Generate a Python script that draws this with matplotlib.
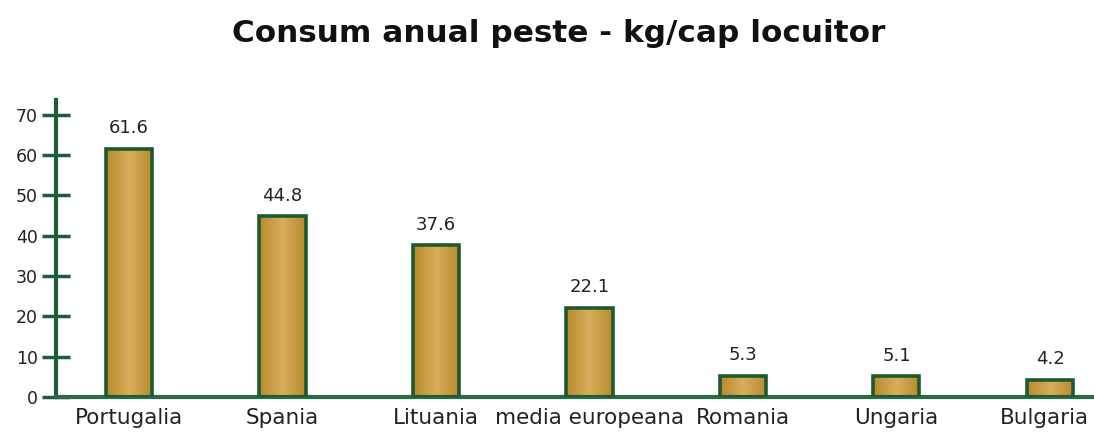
import matplotlib
matplotlib.use("Agg")
import matplotlib.pyplot as plt
import matplotlib.transforms as mtransforms
import numpy as np

categories = ["Portugalia", "Spania", "Lituania", "media europeana", "Romania", "Ungaria", "Bulgaria"]
values = [61.6, 44.8, 37.6, 22.1, 5.3, 5.1, 4.2]
value_labels = ["61.6", "44.8", "37.6", "22.1", "5.3", "5.1", "4.2"]
yticks = [0, 10, 20, 30, 40, 50, 60, 70]

plt.rcParams["font.family"] = ["DejaVu Sans"]

green = "#1F5C3A"
edge = "#1E5A30"

fig = plt.figure(figsize=(10.94, 4.34), dpi=100)
ax = fig.add_axes([0.0512, 0.0853, 0.9488, 0.6843])
x = np.arange(len(categories))
bars = ax.bar(x, values, width=0.3, facecolor="none", edgecolor=edge, linewidth=2.6, zorder=3)

# horizontal gradient fill clipped to each bar
grad = np.linspace(0, 1, 256)
grad = 1 - np.abs(grad - 0.5) * 2
cmap = matplotlib.colors.LinearSegmentedColormap.from_list("gold", ["#B8892C", "#D8AE5C"])
for b in bars:
    x0, y0 = b.get_x(), b.get_y()
    w, h = b.get_width(), b.get_height()
    im = ax.imshow(grad[None, :], cmap=cmap, aspect="auto",
                   extent=[x0, x0 + w, y0, y0 + h], zorder=2)
    im.set_clip_path(b)

for xi, v, lab in zip(x, values, value_labels):
    ax.text(xi, v + 2.9, lab, ha="center", va="bottom", fontsize=13, color="#222222")

ax.set_xlim(-0.4756, 6.287)
ax.set_ylim(0, 73.7)
ax.set_yticks(yticks)
ax.set_yticklabels([str(t) for t in yticks], fontsize=12.5, color="#222222")
ax.tick_params(axis="y", direction="inout", length=20, width=2.5, color=green, pad=3)
ax.set_xticks(x)
ax.set_xticklabels(categories, fontsize=15.5, color="#222222")
ax.tick_params(axis="x", length=0, pad=8)
last = ax.get_xticklabels()[-1]
last.set_transform(last.get_transform() + mtransforms.ScaledTranslation(-6 / 100, 0, fig.dpi_scale_trans))

for s in ["top", "right"]:
    ax.spines[s].set_visible(False)
ax.spines["left"].set_color(green)
ax.spines["left"].set_linewidth(3)
ax.spines["bottom"].set_color("#2A6A48")
ax.spines["bottom"].set_linewidth(3)
ax.set_facecolor("white")

fig.text(0.5105, 0.922, "Consum anual peste - kg/cap locuitor", ha="center", va="center",
         fontsize=22.4, fontweight="bold", color="#111111")

fig.savefig("out.png", dpi=100, facecolor="white")
